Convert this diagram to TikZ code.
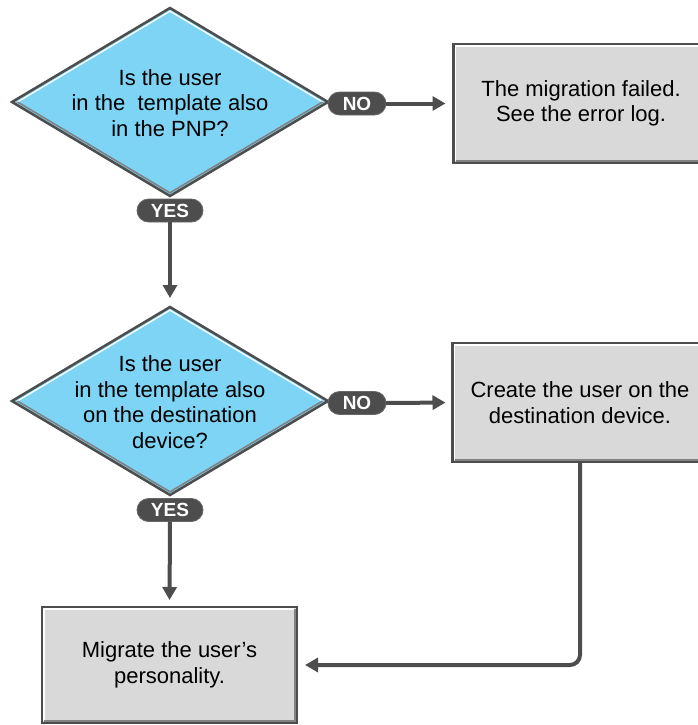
\documentclass[tikz,border=0pt]{standalone}
\usepackage{fontspec}
\setmainfont{Liberation Sans}
\usetikzlibrary{shapes.geometric,arrows.meta}
\definecolor{dkgray}{RGB}{77,77,77}
\definecolor{boxgray}{RGB}{217,217,217}
\definecolor{skyblue}{RGB}{125,212,245}
\definecolor{shadowgray}{RGB}{130,130,130}
\tikzset{
  decision/.style={shape=diamond, fill=skyblue, draw=dkgray, line width=2.5pt,
    minimum width=316pt, minimum height=188pt, inner sep=0pt, outer sep=0pt},
  dtext/.style={align=center, inner sep=0pt, font=\fontsize{22}{25.5}\selectfont},
  procbox/.style={rectangle, fill=boxgray, draw=dkgray, line width=2.2pt,
    minimum width=255pt, minimum height=119pt, inner sep=0pt, outer sep=0pt,
    align=center, font=\fontsize{22}{25.5}\selectfont},
  pill/.style={rectangle, rounded corners=11.5pt, fill=dkgray, draw=dkgray!85!white,
    line width=0.8pt, minimum height=23pt, inner sep=0pt, outer sep=0pt,
    text=white, font=\fontsize{19}{20}\selectfont\bfseries},
  arr/.style={draw=dkgray, line width=4pt,
    -{Triangle[length=13pt,width=14pt]}},
}
\begin{document}
\begin{tikzpicture}[x=1pt,y=-1pt]
\useasboundingbox (0,0) rectangle (698,725);
\clip (0,0) rectangle (698,725);
% decisions
\node[decision] (d1) at (170,102) {};
\node[dtext] (d1t) at (170,103) {Is the user\\in the\ \ template also\\in the PNP?};
\node[decision] (d2) at (170,401) {};
\node[dtext] (d2t) at (170,402) {Is the user\\in the template also\\on the destination\\device?};
% bevels on the diamonds
\foreach \n in {d1,d2}{
  \draw[white, line width=1.3pt, line join=miter]
    ([xshift=5.5pt]\n.west) -- ([yshift=-3.2pt]\n.north) -- ([xshift=-5.5pt]\n.east);
  \draw[shadowgray, line width=1.6pt, line join=miter]
    ([xshift=5.5pt]\n.west) -- ([yshift=3.2pt]\n.south) -- ([xshift=-5.5pt]\n.east);
}
% process boxes
\node[procbox] (b1) at (581,103.5) {The migration failed.\\See the error log.};
\node[procbox] (b2) at (580,402.5) {Create the user on the\\destination device.};
\node[procbox, minimum height=116pt] (b3) at (169.5,665) {Migrate the user’s\\personality.};
\foreach \n in {b1,b2,b3}{
  \draw[white, line width=1.2pt]
    ([xshift=2pt,yshift=2.5pt]\n.south west) |- ([xshift=-2.5pt,yshift=-2pt]\n.north east);
  \draw[shadowgray, line width=2pt]
    ([xshift=2pt,yshift=2.2pt]\n.south west) -| ([xshift=-2.2pt,yshift=-2pt]\n.north east);
}
% labels
\node[pill, minimum width=58pt] (n1) at (357,103.5) {NO};
\node[pill, minimum width=66pt] (y1) at (170,210.5) {YES};
\node[pill, minimum width=58pt] (n2) at (357,403) {NO};
\node[pill, minimum width=66pt] (y2) at (170,510) {YES};
% connectors
\draw[arr, shorten >=8pt] (n1.east) -- (b1.west);
\draw[arr, shorten >=9pt] (y1.south) -- (d2.north);
\draw[arr, shorten >=7pt] (n2.east) -- (b2.west);
\draw[arr, shorten >=7pt] (y2.south) -- (b3.north);
\draw[arr, rounded corners=10pt, shorten >=8pt] (b2.south) |- (b3.east);
\end{tikzpicture}
\end{document}
